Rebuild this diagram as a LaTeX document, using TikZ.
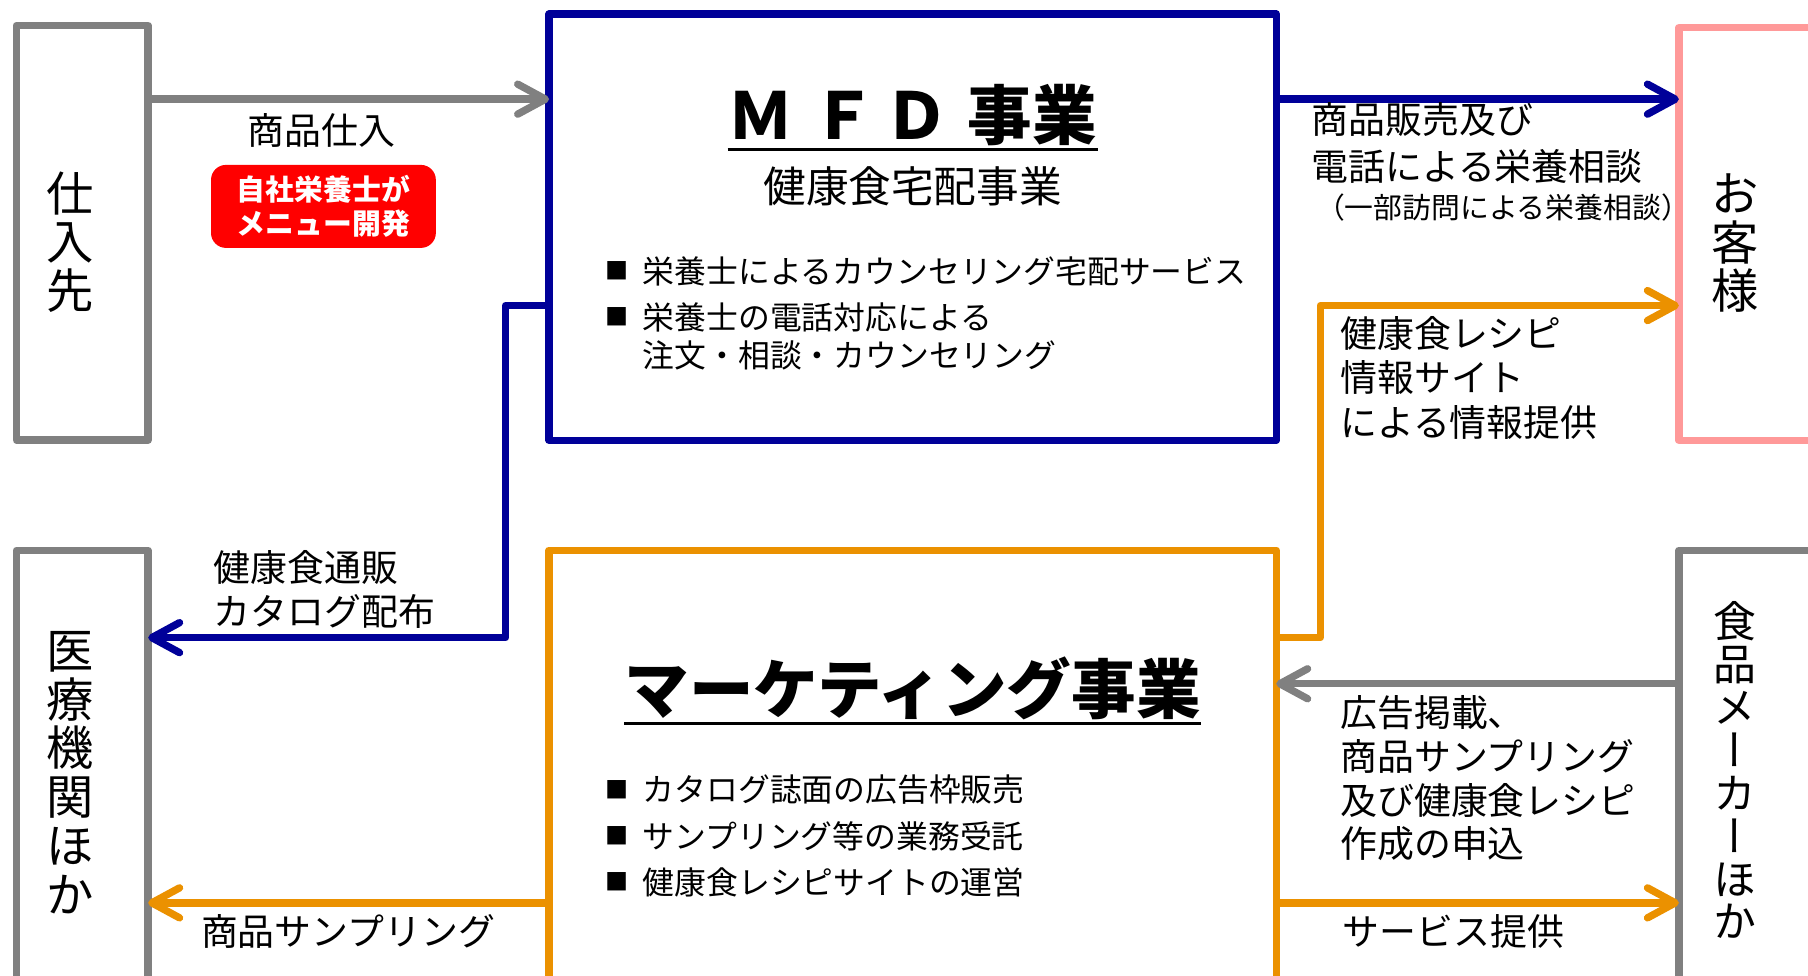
\documentclass[tikz,border=0pt]{standalone}
\usepackage{fontspec}
\setmainfont{Noto Sans CJK JP}
\newfontfamily\vjp[RawFeature=+vert]{Noto Sans CJK JP}
\usetikzlibrary{arrows.meta}
\definecolor{mfdblue}{RGB}{0,0,153}
\definecolor{mktorange}{RGB}{235,145,0}
\definecolor{boxgray}{RGB}{128,128,128}
\definecolor{custpink}{RGB}{255,153,153}
\definecolor{tagred}{RGB}{255,0,0}
\newcommand\fsz[2]{\fontsize{#1}{#2}\selectfont}
\newcommand\sqmark{{\fsz{10pt}{10pt}■}}
\begin{document}
\begin{tikzpicture}[x=0.5pt,y=-0.5pt,
  frame/.style={draw=#1, line width=3.2pt, line join=round, inner sep=0pt, outer sep=0pt},
  conn/.style={draw=#1, line width=3.2pt, line join=round, -{Straight Barb[length=12pt,width=13pt,round]}},
  lbl/.style={inner sep=0pt, font=\fsz{16pt}{19pt}, align=left},
  vtxt/.style={inner sep=0pt, align=center, font=\fsz{20.5pt}{21pt}},
  btxt/.style={inner sep=0pt, anchor=west, align=left, font=\fsz{13.8pt}{16.5pt}},
  bmark/.style={inner sep=0pt},
  ttl/.style={inner sep=0pt, anchor=base, font=\bfseries\fsz{28pt}{28pt}},
  uline/.style={line width=1.45pt},
  tag/.style={fill=tagred, rounded corners=6.5pt, text=white, align=center, font=\bfseries\fsz{12.5pt}{15pt}, minimum width=97.5pt, minimum height=36pt, inner sep=0pt}
]
\useasboundingbox (0,0) rectangle (1568,846);
\clip (0,0) rectangle (1568,846);

% boxes
\node[frame=boxgray, minimum width=57.15pt, minimum height=179.8pt] (sup) at (71.35,201.9) {};
\node[frame=boxgray, minimum width=57.15pt, minimum height=236.4pt] (med) at (71.35,713.6) {};
\node[frame=mfdblue, minimum width=315.3pt, minimum height=184.8pt] (mfd) at (791.5,197) {};
\node[frame=mktorange, minimum width=315.3pt, minimum height=236.4pt] (mkt) at (791.5,713.6) {};
\node[frame=custpink, minimum width=122pt, minimum height=178.9pt] (cus) at (1578,202.9) {};
\node[frame=boxgray, minimum width=122pt, minimum height=236.4pt] (mak) at (1578,713.6) {};

% rows and columns of the connectors
\coordinate (r1) at (0,86);
\coordinate (r2) at (0,265);
\coordinate (r3) at (0,553);
\coordinate (r4) at (0,593);
\coordinate (r5) at (0,783);
\coordinate (bx) at (438.5,0);
\coordinate (ox) at (1145,0);

% connectors
\draw[conn=boxgray] (sup.east |- r1) -- (mfd.west |- r1);
\draw[conn=mfdblue] (mfd.east |- r1) -- (cus.west |- r1);
\draw[conn=mfdblue] (mfd.west |- r2) -| (bx |- r3) -- (med.east |- r3);
\draw[conn=mktorange] (mkt.east |- r3) -| (ox |- r2) -- (cus.west |- r2);
\draw[conn=boxgray] (mak.west |- r4) -- (mkt.east |- r4);
\draw[conn=mktorange] (mkt.east |- r5) -- (mak.west |- r5);
\draw[conn=mktorange] (mkt.west |- r5) -- (med.east |- r5);

% vertical box texts
\node[vtxt] (tsup) at (61,210) {仕\\入\\先};
\node[vtxt, font=\fsz{20.5pt}{21.2pt}] (tmed) at (61,670) {医\\療\\機\\関\\ほ\\か};
\node[vtxt] (tcus) at (1505,211) {お\\客\\様};
\node[vtxt, font=\vjp\fsz{18.6pt}{18.6pt}] (tmak) at (1505,668) {食\\品\\メ\\ー\\カ\\ー\\ほ\\か};

% titles
\node[ttl] (mfdt) at (791.5,121) {Ｍ\kern8pt Ｆ\kern4pt Ｄ\kern8pt 事業};
\draw[uline] ([yshift=-4.3pt]mfdt.base west) -- ([yshift=-4.3pt]mfdt.base east);
\node[inner sep=0pt, font=\fsz{18.5pt}{20pt}] (mfds) at (791.5,162) {健康食宅配事業};
\node[ttl] (mktt) at (791.5,619) {マーケティング事業};
\draw[uline] ([yshift=-4.3pt]mktt.base west) -- ([yshift=-4.3pt]mktt.base east);

% bullets MFD
\node[bmark] (mb1) at (535.5,235) {\sqmark};
\node[btxt] (m1) at (557,235) {栄養士によるカウンセリング宅配サービス};
\node[bmark] (mb2) at (535.5,275) {\sqmark};
\node[btxt] (m2) at (557,291.5) {栄養士の電話対応による\\注文・相談・カウンセリング};

% bullets marketing
\node[bmark] (kb1) at (535.5,685) {\sqmark};
\node[btxt] (k1) at (557,685) {カタログ誌面の広告枠販売};
\node[bmark] (kb2) at (535.5,725) {\sqmark};
\node[btxt] (k2) at (557,725) {サンプリング等の業務受託};
\node[bmark] (kb3) at (535.5,765) {\sqmark};
\node[btxt] (k3) at (557,765) {健康食レシピサイトの運営};

% connector labels
\node[lbl] (lshiire) at (279,113) {商品仕入};
\node[tag] (tag) at (280.5,179) {自社栄養士が\\メニュー開発};
\node[lbl, anchor=west, font=\fsz{16pt}{20pt}] (lhanbai) at (1137,124) {商品販売及び\\電話による栄養相談};
\node[lbl, anchor=east, font=\fsz{12.5pt}{14pt}] (lparen) at (1466,180) {（一部訪問による栄養相談）};
\node[lbl, anchor=west, font=\fsz{16pt}{19.25pt}] (lrecipe) at (1162,327.5) {健康食レシピ\\情報サイト\\による情報提供};
\node[lbl, anchor=west] (ltsuhan) at (185,511) {健康食通販\\カタログ配布};
\node[lbl, anchor=west] (lkoukoku) at (1162,675) {広告掲載、\\商品サンプリング\\及び健康食レシピ\\作成の申込};
\node[lbl, anchor=west] (lservice) at (1164,808) {サービス提供};
\node[lbl, anchor=west] (lsampling) at (174,808) {商品サンプリング};
\end{tikzpicture}
\end{document}
